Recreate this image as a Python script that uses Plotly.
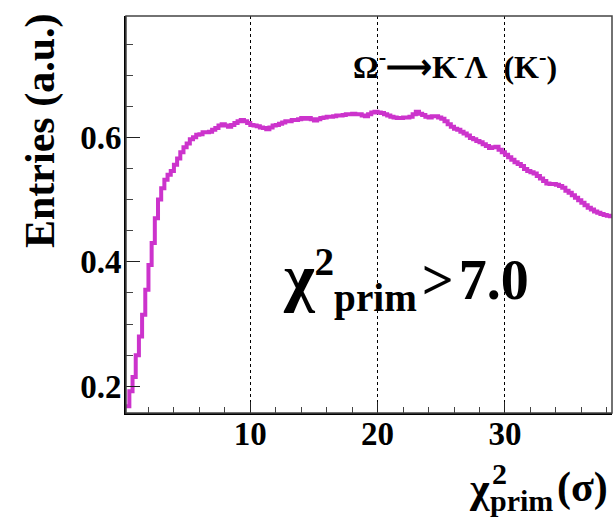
import numpy as np
import plotly.graph_objects as go

# Histogram: bin width 0.25 starting at 0.25
bin_start = 0.25
bin_width = 0.25
entries = [
    0.168, 0.192, 0.215, 0.250, 0.280, 0.315, 0.355, 0.395, 0.430, 0.470,
    0.500, 0.518, 0.532, 0.540, 0.546, 0.556, 0.566, 0.576, 0.584, 0.590,
    0.597, 0.600, 0.604, 0.605, 0.608, 0.608, 0.609, 0.612, 0.615, 0.619,
    0.621, 0.619, 0.617, 0.620, 0.623, 0.626, 0.628, 0.626, 0.623, 0.620,
    0.619, 0.618, 0.616, 0.615, 0.613, 0.616, 0.619, 0.620, 0.622, 0.624,
    0.626, 0.626, 0.628, 0.628, 0.629, 0.631, 0.630, 0.631, 0.629, 0.627,
    0.629, 0.631, 0.632, 0.633, 0.633, 0.634, 0.635, 0.635, 0.636, 0.637,
    0.637, 0.638, 0.637, 0.637, 0.635, 0.634, 0.637, 0.640, 0.641, 0.640,
    0.639, 0.637, 0.635, 0.633, 0.632, 0.631, 0.631, 0.632, 0.632, 0.633,
    0.637, 0.641, 0.638, 0.636, 0.633, 0.632, 0.634, 0.634, 0.632, 0.630,
    0.626, 0.621, 0.617, 0.614, 0.612, 0.609, 0.606, 0.603, 0.599, 0.597,
    0.594, 0.592, 0.589, 0.586, 0.583, 0.584, 0.585, 0.580, 0.576, 0.572,
    0.568, 0.564, 0.560, 0.557, 0.554, 0.549, 0.546, 0.544, 0.542, 0.538,
    0.534, 0.530, 0.526, 0.525, 0.525, 0.524, 0.522, 0.519, 0.514, 0.511,
    0.507, 0.503, 0.499, 0.495, 0.491, 0.487, 0.484, 0.481, 0.479, 0.477,
    0.475, 0.474, 0.473,
]
x_major = [10, 20, 30]
x_labels = ["10", "20", "30"]
y_major = [0.2, 0.4, 0.6]
y_labels = ["0.2", "0.4", "0.6"]

edges = bin_start + bin_width * np.arange(len(entries) + 1)
yvals = entries + [entries[-1]]

W, H = 613, 522
L, R, T, B = 126, 1, 16, 109
pw, ph = W - L - R, H - T - B


def px2paper(px, py):
    return (px - L) / pw, (H - B - py) / ph


fig = go.Figure()
fig.add_trace(go.Scatter(
    x=edges, y=yvals, mode="lines", line_shape="hv",
    line=dict(color="#CC33CC", width=4), hoverinfo="skip", showlegend=False,
))

serif = "Liberation Serif, Times New Roman, serif"
fig.update_layout(
    width=W, height=H,
    margin=dict(l=L, r=R, t=T, b=B, pad=0),
    paper_bgcolor="white", plot_bgcolor="white",
    showlegend=False,
    xaxis=dict(
        range=[0.236, 38.41], tickvals=x_major, ticktext=x_labels,
        ticks="inside", ticklen=11, tickwidth=1.2, tickcolor="#222",
        minor=dict(ticks="inside", ticklen=6, tickwidth=1.2, tickcolor="#444",
                   dtick=2, tick0=0, showgrid=False),
        showgrid=True, gridcolor="black", griddash="dot", gridwidth=1,
        showline=True, linecolor="black", linewidth=2,
        tickfont=dict(family=serif, size=33, color="black", weight="bold"),
        zeroline=False, ticklabelstandoff=-10,
    ),
    yaxis=dict(
        range=[0.157, 0.795], tickvals=y_major, ticktext=y_labels,
        ticks="inside", ticklen=14, tickwidth=1.2, tickcolor="#222",
        minor=dict(ticks="inside", ticklen=7, tickwidth=1.2, tickcolor="#444",
                   dtick=0.05, tick0=0, showgrid=False),
        showgrid=False,
        showline=True, linecolor="black", linewidth=2,
        tickfont=dict(family=serif, size=33, color="black", weight="bold"),
        zeroline=False, ticklabelstandoff=-4,
    ),
)

# frame (top/right)
fig.add_shape(type="rect", xref="paper", yref="paper", x0=0, y0=0, x1=1, y1=1,
              line=dict(color="#444", width=1.5), layer="above")

ann = []


def add_text(text, px, py, size, xanchor="left", angle=0):
    xp, yp = px2paper(px, py)
    ann.append(dict(text=text, x=xp, y=yp, xref="paper", yref="paper",
                    xanchor=xanchor, yanchor="middle", textangle=angle,
                    showarrow=False,
                    font=dict(family=serif, size=size, color="black",
                              weight="bold")))


gap = "<span style='font-size:20px'> </span>"
# y title
add_text("Entries (a.u.)", 40, 131, 42, xanchor="center", angle=-90)
# header label
add_text("Ω<sup>-</sup>⟶K<sup>-</sup>Λ  (K<sup>-</sup>)", 351, 65, 32)
# big label
add_text("<span style='font-size:66px'>χ</span><sup>2</sup><sub>prim</sub>"
         + gap + ">" + gap + "7.0", 281, 280, 56)
# x title pieces
add_text("χ", 467, 488, 42)
add_text("2", 490, 474, 30)
add_text("prim", 488, 500, 30)
add_text("(σ)", 555, 488, 42)
fig.update_layout(annotations=ann)

fig.write_html("out.html", config={"displayModeBar": False},
               post_script="document.body.style.margin='0';")
